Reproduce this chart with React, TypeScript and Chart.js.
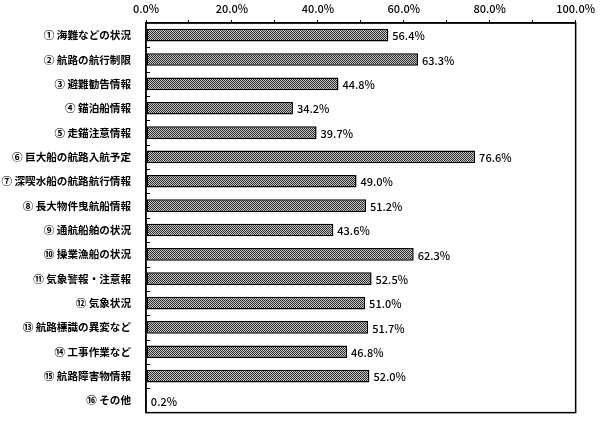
import React, { useEffect, useRef } from "react";
import { Chart, registerables } from "chart.js";

Chart.register(...registerables);

const categories: string[] = [
  "① 海難などの状況",
  "② 航路の航行制限",
  "③ 避難勧告情報",
  "④ 錨泊船情報",
  "⑤ 走錨注意情報",
  "⑥ 巨大船の航路入航予定",
  "⑦ 深喫水船の航路航行情報",
  "⑧ 長大物件曳航船情報",
  "⑨ 通航船舶の状況",
  "⑩ 操業漁船の状況",
  "⑪ 気象警報・注意報",
  "⑫ 気象状況",
  "⑬ 航路標識の異変など",
  "⑭ 工事作業など",
  "⑮ 航路障害物情報",
  "⑯ その他",
];

const values: number[] = [
  56.4, 63.3, 44.8, 34.2, 39.7, 76.6, 49.0, 51.2, 43.6, 62.3, 52.5, 51.0, 51.7,
  46.8, 52.0, 0.2,
];

const FONT = "'Noto Sans CJK JP', 'Noto Sans', sans-serif";

function makePattern(): CanvasPattern | string {
  const c = document.createElement("canvas");
  c.width = 2;
  c.height = 2;
  const g = c.getContext("2d");
  if (!g) return "#777";
  g.fillStyle = "#c8c8c8";
  g.fillRect(0, 0, 2, 2);
  g.fillStyle = "#2a2a2a";
  g.fillRect(0, 0, 1, 1);
  g.fillRect(1, 1, 1, 1);
  const p = g.createPattern(c, "repeat");
  return p || "#777";
}

const framePlugin = {
  id: "framePlugin",
  afterDraw(chart: any) {
    const { ctx, chartArea } = chart;
    const { left, right, top, bottom } = chartArea;
    ctx.save();
    ctx.strokeStyle = "#000";
    ctx.lineWidth = 1.5;
    ctx.strokeRect(left, top, right - left, bottom - top);
    const n = categories.length;
    const step = (bottom - top) / n;
    ctx.lineWidth = 1;
    for (let i = 1; i < n; i++) {
      const yy = Math.round(top + step * i) + 0.5;
      ctx.beginPath();
      ctx.moveTo(left, yy);
      ctx.lineTo(left + 4, yy);
      ctx.stroke();
    }
    const meta = chart.getDatasetMeta(0);
    ctx.fillStyle = "#000";
    ctx.font = `500 11px ${FONT}`;
    ctx.textAlign = "left";
    ctx.textBaseline = "middle";
    meta.data.forEach((bar: any, i: number) => {
      ctx.fillText(values[i].toFixed(1) + "%", bar.x + 4, bar.y + 1);
    });
    ctx.restore();
  },
};

export default function App() {
  const ref = useRef<HTMLCanvasElement | null>(null);
  useEffect(() => {
    document.body.style.margin = "0";
    const canvas = ref.current;
    if (!canvas) return;
    const chart = new Chart(canvas, {
      type: "bar",
      data: {
        labels: categories,
        datasets: [
          {
            data: values,
            backgroundColor: makePattern() as any,
            borderColor: "#000",
            borderWidth: 1.5,
            borderSkipped: false,
            categoryPercentage: 1,
            barPercentage: 0.52,
          },
        ],
      },
      options: {
        indexAxis: "y",
        responsive: false,
        animation: false,
        layout: { padding: { right: 18, bottom: 4, top: 0, left: 0 } },
        plugins: {
          legend: { display: false },
          tooltip: { enabled: false },
        },
        scales: {
          x: {
            position: "top",
            min: 0,
            max: 100,
            ticks: {
              stepSize: 10,
              color: "#000",
              font: { family: FONT, size: 11, weight: "500" as any },
              padding: 5,
              maxRotation: 0,
              autoSkip: false,
              callback: (v: any) =>
                Number(v) % 20 === 0 ? Number(v).toFixed(1) + "%" : "",
            },
            grid: {
              drawOnChartArea: false,
              drawTicks: true,
              tickLength: 3,
              color: "#000",
            },
            border: { color: "#000", width: 1.5 },
            afterFit: (s: any) => {
              s.height = 23;
            },
          },
          y: {
            ticks: {
              color: "#000",
              font: { family: FONT, size: 10.6, weight: "bold" as any },
              padding: 7,
              autoSkip: false,
            },
            grid: { display: false },
            border: { color: "#000", width: 1.5 },
            afterFit: (s: any) => {
              s.width = 146;
            },
          },
        },
      },
      plugins: [framePlugin],
    });
    return () => chart.destroy();
  }, []);
  return (
    <div style={{ width: 600, height: 426, background: "#fff" }}>
      <canvas ref={ref} width={600} height={426} />
    </div>
  );
}
